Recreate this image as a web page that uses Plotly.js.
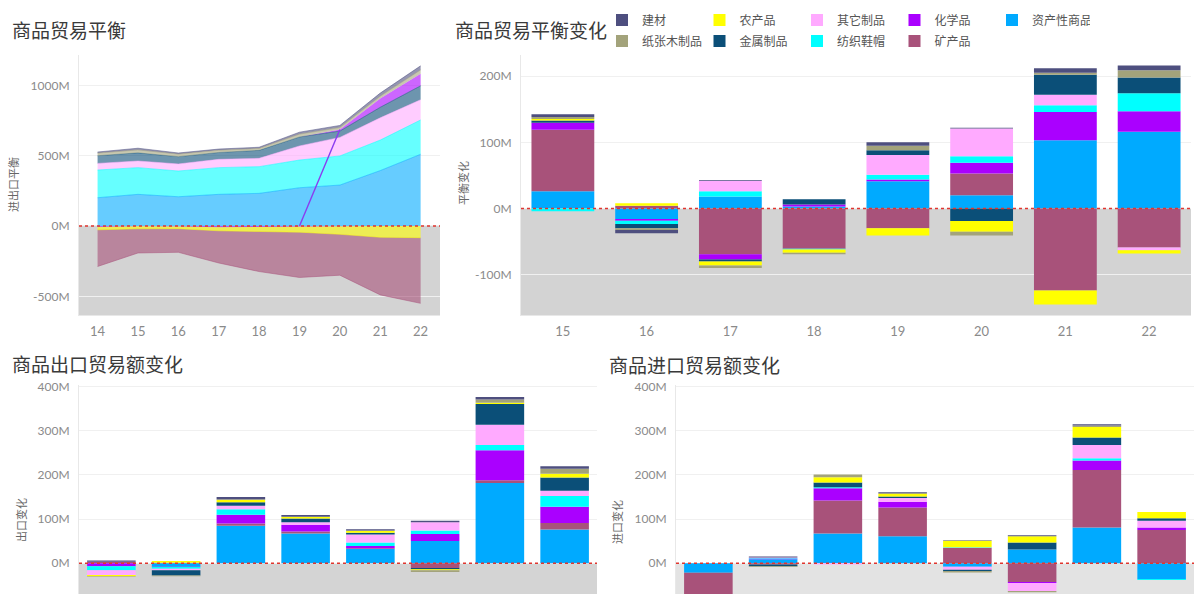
<!DOCTYPE html>
<html>
<head>
<meta charset="utf-8">
<script src="https://cdn.plot.ly/plotly-3.0.1.min.js"></script>
<style>
html,body{margin:0;padding:0;background:#fff;}
#chart{width:1200px;height:594px;}
</style>
</head>
<body>
<div id="chart"></div>
<script>
// ---------- categories / labels ----------
const years = [14, 15, 16, 17, 18, 19, 20, 21, 22];
const changeYears = [15, 16, 17, 18, 19, 20, 21, 22];
const categories = ['资产性商品', '矿产品', '化学品', '纺织鞋帽', '其它制品', '金属制品', '农产品', '纸张木制品', '建材'];
const colors = ['#00aaff', '#a8527a', '#aa00ff', '#00ffff', '#ffaaff', '#0b4f78', '#ffff00', '#a3a37b', '#4e4f7f'];
const legendRow = [1, 2, 1, 2, 1, 2, 1, 2, 1];          // which legend row each category sits in
const legendRank = [5, 4, 4, 3, 3, 2, 2, 1, 1];

const balTicks = [-500, 0, 500, 1000];
const balTickText = ['-500M', '0M', '500M', '1000M'];
const chgTicks = [-100, 0, 100, 200];
const chgTickText = ['-100M', '0M', '100M', '200M'];
const tradeTicks = [0, 100, 200, 300, 400];
const tradeTickText = ['0M', '100M', '200M', '300M', '400M'];

// ---------- 商品贸易平衡 (level, M) ----------
const lvlAsset   = [201, 225, 208, 225, 232, 272, 291, 394, 510];
const lvlMineral = [-261, -172, -168, -229, -285, -322, -291, -410, -467];
const lvlChem    = [-8, -2, -3, -9, -7, -4, 11, 62, 85];
const lvlTextile = [197, 190, 183, 190, 190, 197, 207, 217, 244];
const lvlOther   = [47, 47, 50, 59, 59, 100, 132, 158, 144];
const lvlMetal   = [55, 58, 52, 49, 57, 64, 45, 75, 99];
const lvlAgri    = [-19, -18, -16, -25, -32, -40, -59, -80, -83];
const lvlPaper   = [18, 21, 18, 15, 13, 20, 14, 17, 28];
const lvlBuild   = [8, 12, 8, 9, 9, 14, 15, 22, 29];

// ---------- 商品贸易平衡变化 (M) ----------
const chgAsset   = [26, -16, 18, 3, 41, 20, 103, 116];
const chgMineral = [93, 4, -69, -61, -30, 33, -124, -59];
const chgChem    = [10.6, -2.5, -8, 3, 3, 16, 43, 31];
const chgTextile = [-4, -5, 8, -1, 7, 10, 10, 27];
const chgOther   = [0, 0, 16, 0, 30, 42, 16, -4];
const chgMetal   = [3.5, -6.5, -3, 8, 7, -19, 30, 24];
const chgAgri    = [2, 4, -6, -5, -11, -16, -21, -5];
const chgPaper   = [3, -2.5, -4, -2, 7, -6, 3, 11];
const chgBuild   = [4.5, -5, 1, 0, 5, 1, 7, 7];

// ---------- 商品出口贸易额变化 (M) ----------
const expAsset   = [0, -8, 85, 67, 32, 50, 182, 76];
const expMineral = [3, 1, 5, 5, 2, -11, 6, 15];
const expChem    = [-7, -1, 20, 15, 5, 16, 68, 37];
const expTextile = [-9, -4, 12, 0, 8, 8, 12, 24];
const expOther   = [-11, -3, 8, 6, 18, 19, 46, 12];
const expMetal   = [0, -12, 8, 8, 4, -3, 47, 30];
const expAgri    = [-3, 4, 5, 4, 4, -2, 3, 9];
const expPaper   = [-1, -2, 2, 0, 1, -4, 7, 11];
const expBuild   = [3, 0, 5, 4, 3, 3, 6, 6];

// ---------- 商品进口贸易额变化 (M) ----------
const impAsset   = [-22, 9, 67, 61, -8, 31, 81, -36];
const impMineral = [-88, -3, 75, 65, 35, -43, 130, 75];
const impChem    = [-17, 1.5, 28, 13, 0, -2, 22, 6];
const impTextile = [-5, 1, 2, 0, 1, 0, 5, -2];
const impOther   = [-10, 1.5, -3, 9, -7, -18, 30, 15];
const impMetal   = [-3, -4, 11, 3, -3, 16, 17, 6];
const impAgri    = [-5, 0, 12, 7, 15, 14, 24, 14];
const impPaper   = [-3, -2, 6, 0, -3, -3, 3, 0];
const impBuild   = [-1, 2, 0, 3, 1, 2, 3, 0];

const chgSeries = [chgAsset, chgMineral, chgChem, chgTextile, chgOther, chgMetal, chgAgri, chgPaper, chgBuild];
const expSeries = [expAsset, expMineral, expChem, expTextile, expOther, expMetal, expAgri, expPaper, expBuild];
const impSeries = [impAsset, impMineral, impChem, impTextile, impOther, impMetal, impAgri, impPaper, impBuild];

// ---------- helpers ----------
function rgba(hex, a) {
  const n = parseInt(hex.slice(1), 16);
  return 'rgba(' + ((n >> 16) & 255) + ',' + ((n >> 8) & 255) + ',' + (n & 255) + ',' + a + ')';
}
const W = 1200, H = 594;
const px = v => v / W;
const py = v => 1 - v / H;
const CJK = '"Noto Sans CJK SC", "Noto Sans", sans-serif';
const NUM = 'Lato, "Open Sans", sans-serif';

const traces = [];

// ---------- top-left stacked areas ----------
function area(cat, vals, group, lw) {
  const i = categories.indexOf(cat);
  return {
    type: 'scatter', mode: 'lines', x: years, y: vals, stackgroup: group,
    fillcolor: rgba(colors[i], 0.6),
    line: {color: rgba(colors[i], 0.85), width: lw === undefined ? 0.6 : lw, shape: 'linear'},
    xaxis: 'x', yaxis: 'y', showlegend: false, hoverinfo: 'x+y+name', name: cat
  };
}
const chemPos = lvlChem.map(v => Math.max(v, 0));
const chemNeg = lvlChem.map(v => Math.min(v, 0));
traces.push(area('资产性商品', lvlAsset, 'pos'));
traces.push(area('纺织鞋帽', lvlTextile, 'pos'));
traces.push(area('其它制品', lvlOther, 'pos'));
traces.push(area('金属制品', lvlMetal, 'pos'));
traces.push(area('化学品', chemPos, 'pos', 0));
traces.push(area('纸张木制品', lvlPaper, 'pos'));
traces.push(area('建材', lvlBuild, 'pos'));
traces.push(area('化学品', chemNeg, 'neg', 0));
traces.push(area('农产品', lvlAgri, 'neg'));
traces.push(area('矿产品', lvlMineral, 'neg'));

// chemical series crossing from the negative stack to the positive stack
const i19 = years.indexOf(19), i20 = years.indexOf(20);
const top20 = lvlAsset[i20] + lvlTextile[i20] + lvlOther[i20] + lvlMetal[i20] + chemPos[i20];
traces.push({
  type: 'scatter', mode: 'lines', x: [years[i19], years[i20]], y: [0, top20],
  line: {color: '#8a3cf0', width: 1.4}, xaxis: 'x', yaxis: 'y', showlegend: false, hoverinfo: 'skip'
});

// ---------- bar charts ----------
function bars(series, xa, ya, withLegend) {
  categories.forEach((cat, i) => {
    const t = {
      type: 'bar', x: changeYears, y: series[i], name: cat,
      marker: {color: colors[i], line: {width: 0}},
      xaxis: xa, yaxis: ya, showlegend: !!withLegend
    };
    if (withLegend) {
      t.legend = legendRow[i] === 1 ? 'legend' : 'legend2';
      t.legendrank = legendRank[i];
    }
    traces.push(t);
  });
}
bars(chgSeries, 'x2', 'y2', true);
bars(expSeries, 'x3', 'y3', false);
bars(impSeries, 'x4', 'y4', false);

// ---------- layout ----------
const tickFont = {family: NUM, size: 12, color: '#8a8a8a'};
const xTickFont = {family: NUM, size: 13, color: '#8a8a8a'};
function yax(domain, range, tv, tt) {
  return {
    domain: domain, range: range, tickmode: 'array', tickvals: tv, ticktext: tt,
    showgrid: true, gridcolor: '#f0f0f0', gridwidth: 1, zeroline: false,
    showline: true, linecolor: '#e8e8e8', linewidth: 1, ticks: '', ticklabelstandoff: 6,
    tickfont: tickFont, fixedrange: true
  };
}
function xax(domain, range, tv, anchor, showLabels) {
  return {
    domain: domain, range: range, tickmode: 'array', tickvals: tv, anchor: anchor,
    showgrid: false, zeroline: false, showline: true, linecolor: '#e8e8e8', ticks: '',
    showticklabels: showLabels, tickfont: xTickFont, ticklabelstandoff: 4, fixedrange: true
  };
}

const topDom = [py(315), py(55)];
const botDom = [0, py(385)];

function greyRect(xa, ya, y0, col) {
  return {type: 'rect', xref: xa + ' domain', yref: ya, x0: 0, x1: 1, y0: y0, y1: 0,
          fillcolor: col, line: {width: 0}, layer: 'below'};
}
function redLine(xa, ya) {
  return {type: 'line', xref: xa + ' domain', yref: ya, x0: 0, x1: 1, y0: 0, y1: 0,
          line: {color: '#e0362f', width: 1.5, dash: 'dot'}, layer: 'above'};
}

function title(text, x, y) {
  return {text: text, xref: 'paper', yref: 'paper', x: px(x), y: py(y), xanchor: 'left', yanchor: 'middle',
          showarrow: false, font: {family: CJK, size: 19, color: '#3a3a3a'}};
}
function axTitle(text, x, y) {
  return {text: text, xref: 'paper', yref: 'paper', x: px(x), y: py(y), xanchor: 'center', yanchor: 'middle',
          textangle: -90, showarrow: false, font: {family: CJK, size: 11, color: '#666'}};
}

const legendBase = {
  orientation: 'h', xanchor: 'left', yanchor: 'middle', x: px(602),
  entrywidth: 52.5, entrywidthmode: 'pixels', bgcolor: 'rgba(0,0,0,0)', borderwidth: 0,
  font: {family: CJK, size: 12, color: '#555'}, traceorder: 'normal', itemclick: false, itemdoubleclick: false
};

const layout = {
  width: W, height: H,
  margin: {l: 0, r: 0, t: 0, b: 0},
  paper_bgcolor: '#ffffff', plot_bgcolor: '#ffffff',
  barmode: 'relative', bargap: 0.25,
  showlegend: true,
  legend: Object.assign({}, legendBase, {y: py(20)}),
  legend2: Object.assign({}, legendBase, {y: py(41)}),
  xaxis:  xax([px(79), px(440)], [13.54, 22.48], years, 'y', true),
  yaxis:  Object.assign(yax(topDom, [-633, 1216], balTicks, balTickText), {anchor: 'x'}),
  xaxis2: xax([px(521), px(1191)], [14.5, 22.5], changeYears, 'y2', true),
  yaxis2: Object.assign(yax(topDom, [-161, 232], chgTicks, chgTickText), {anchor: 'x2'}),
  xaxis3: xax([px(79), px(597)], [14.5, 22.5], changeYears, 'y3', false),
  yaxis3: Object.assign(yax(botDom, [-70, 404], tradeTicks, tradeTickText), {anchor: 'x3'}),
  xaxis4: xax([px(676), px(1194)], [14.5, 22.5], changeYears, 'y4', false),
  yaxis4: Object.assign(yax(botDom, [-70, 404], tradeTicks, tradeTickText), {anchor: 'x4'}),
  shapes: [
    greyRect('x', 'y', -633, '#d3d3d3'),
    greyRect('x2', 'y2', -161, '#d3d3d3'),
    greyRect('x3', 'y3', -70, '#d4d4d4'),
    greyRect('x4', 'y4', -70, '#e3e3e3'),
    redLine('x', 'y'), redLine('x2', 'y2'), redLine('x3', 'y3'), redLine('x4', 'y4')
  ],
  annotations: [
    title('商品贸易平衡', 10, 30),
    title('商品贸易平衡变化', 453, 30),
    title('商品出口贸易额变化', 10, 363),
    title('商品进口贸易额变化', 607, 364),
    axTitle('进出口平衡', 13, 185),
    axTitle('平衡变化', 463, 183),
    axTitle('出口变化', 21, 520),
    axTitle('进口变化', 617, 522)
  ],
  hovermode: false
};

Plotly.newPlot('chart', traces, layout, {displayModeBar: false, staticPlot: true});
</script>
</body>
</html>
